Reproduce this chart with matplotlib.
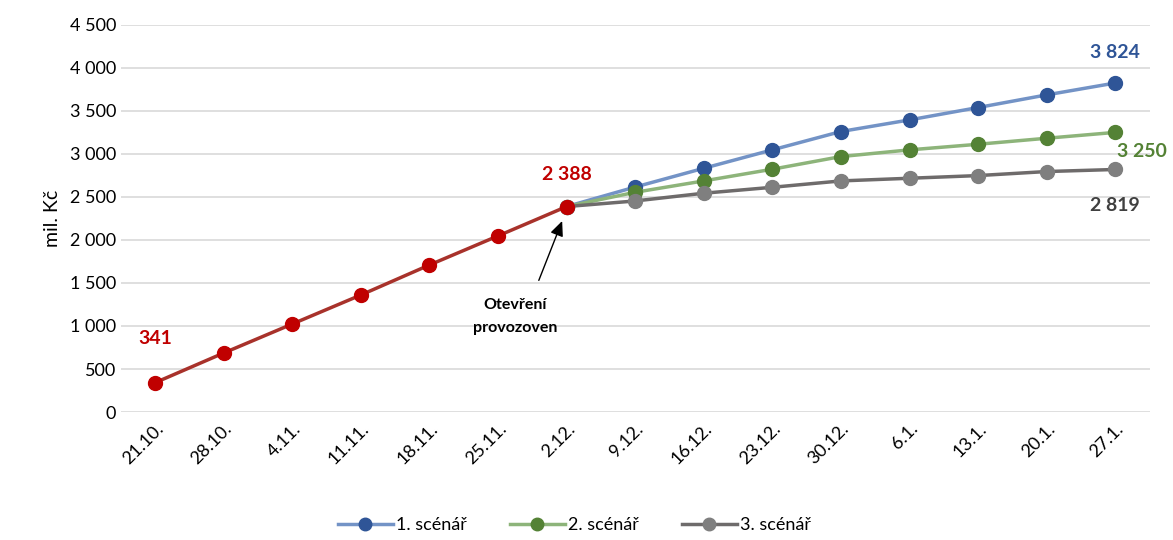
import matplotlib.pyplot as plt
from matplotlib.ticker import FuncFormatter

plt.rcParams['font.family'] = ['Lato', 'DejaVu Sans']

dates = ['21.10.', '28.10.', '4.11.', '11.11.', '18.11.', '25.11.', '2.12.',
         '9.12.', '16.12.', '23.12.', '30.12.', '6.1.', '13.1.', '20.1.', '27.1.']

# actual values up to opening (2.12.)
actual = [341, 686, 1023, 1360, 1709, 2047, 2388]
# scenarios from 2.12. onwards
scen1 = [2388, 2615, 2833, 3047, 3260, 3395, 3539, 3686, 3824]
scen2 = [2388, 2554, 2686, 2822, 2969, 3047, 3112, 3182, 3250]
scen3 = [2388, 2453, 2543, 2612, 2686, 2717, 2748, 2795, 2819]
names = ['1. scénář', '2. scénář', '3. scénář']

fig = plt.figure(figsize=(11.73, 5.4), dpi=100)
ax = fig.add_axes([0.103, 0.237, 0.877, 0.717])

x_act = list(range(len(actual)))
x_sc = list(range(len(actual) - 1, len(dates)))

styles = [('#7393C6', '#2F5597'), ('#8DB47A', '#548235'), ('#6E6B6B', '#7F7F7F')]
for vals, name, (lc, mc) in zip([scen1, scen2, scen3], names, styles):
    ax.plot(x_sc, vals, color=lc, lw=2.5, marker='o', ms=10,
            mfc=mc, mec=mc, label=name, zorder=3)

ax.plot(x_act, actual, color='#A8322B', lw=2.5, marker='o', ms=10,
        mfc='#C00000', mec='#C00000', zorder=4)

ax.set_xlim(-0.5, len(dates) - 0.5)
ax.set_ylim(0, 4500)
ax.set_yticks(range(0, 4501, 500))
ax.yaxis.set_major_formatter(FuncFormatter(lambda v, p: f'{int(v):,}'.replace(',', ' ')))
ax.set_xticks(range(len(dates)))
ax.set_xticklabels(dates, rotation=45, ha='right', rotation_mode='anchor')
ax.tick_params(axis='both', length=0, labelsize=13, colors='#000000')
ax.tick_params(axis='x', pad=6)
ax.grid(axis='y', color='#D9D9D9', lw=1.2)
ax.set_axisbelow(True)
for s in ax.spines.values():
    s.set_visible(False)
ax.set_ylabel('mil. Kč', fontsize=14, labelpad=6)

def fmt(v):
    return f'{v:,}'.replace(',', ' ')

bold = dict(fontsize=14, fontweight='bold', ha='center', va='center')
ax.annotate(fmt(actual[0]), (0, actual[0]), xytext=(0, 32), textcoords='offset points',
            color='#C00000', **bold)
ax.annotate(fmt(actual[-1]), (6, actual[-1]), xytext=(0, 23), textcoords='offset points',
            color='#C00000', **bold)
ax.annotate(fmt(scen1[-1]), (14, scen1[-1]), xytext=(0, 22), textcoords='offset points',
            color='#2F5597', **bold)
ax.annotate(fmt(scen2[-1]), (14, scen2[-1]), xytext=(19, -14), textcoords='offset points',
            color='#548235', **bold)
ax.annotate(fmt(scen3[-1]), (14, scen3[-1]), xytext=(0, -26), textcoords='offset points',
            color='#404040', **bold)

ax.annotate('', xy=(5.95, 2250), xytext=(5.58, 1500),
            arrowprops=dict(arrowstyle='-|>,head_width=0.4,head_length=0.9',
                            color='black', lw=1))
ax.text(5.25, 1110, 'Otevření\nprovozoven', ha='center', va='center',
        fontsize=11.5, fontweight='bold', linespacing=1.8)

fig.legend(loc='lower center', bbox_to_anchor=(0.49, -0.018), ncol=3, frameon=False,
           fontsize=13, handlelength=3.0, columnspacing=2.4, handletextpad=0.2,
           markerscale=0.9)

fig.savefig('out.png', dpi=100)
